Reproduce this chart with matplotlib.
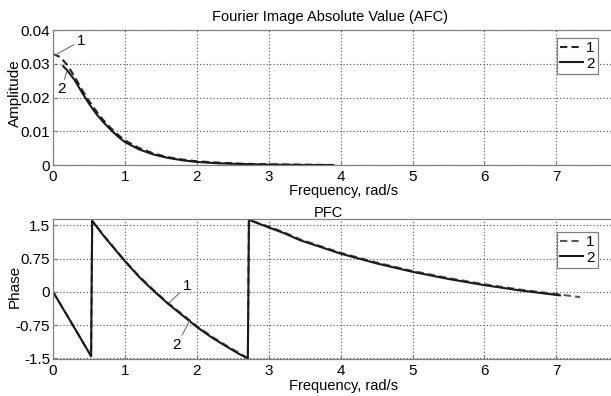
import matplotlib
matplotlib.use("Agg")
import matplotlib.pyplot as plt

plt.rcParams['font.family'] = ['Liberation Sans', 'DejaVu Sans']
plt.rcParams['axes.unicode_minus'] = False

# ---------------- data ----------------
freq_amp1 = [0.0, 0.1, 0.2, 0.3, 0.4, 0.5, 0.6, 0.7, 0.8, 0.9, 1.0, 1.2, 1.4,
             1.6, 1.8, 2.0, 2.3, 2.6, 3.0, 3.5, 3.9]
amp1 = [0.0329, 0.0320, 0.0296, 0.0262, 0.0224, 0.0190, 0.0160, 0.0133, 0.0110,
        0.0090, 0.0073, 0.0050, 0.0034, 0.0023, 0.0016, 0.0011, 0.0007, 0.0004,
        0.0002, 0.0001, 0.0000]

freq_amp2 = [0.14, 0.2, 0.3, 0.4, 0.5, 0.6, 0.7, 0.8, 0.9, 1.0, 1.2, 1.4, 1.6,
             1.8, 2.0, 2.3, 2.6, 3.0, 3.5, 3.9]
amp2 = [0.0293, 0.0280, 0.0252, 0.0216, 0.0182, 0.0152, 0.0127, 0.0105, 0.0085,
        0.0068, 0.0046, 0.0031, 0.0021, 0.0014, 0.0009, 0.0005, 0.0003, 0.0001,
        0.0000, 0.0000]

freq_ph1 = [0.0, 0.25, 0.53, 0.545, 0.7, 0.85, 1.0, 1.2, 1.4, 1.6, 1.8, 2.0, 2.2,
            2.4, 2.6, 2.71, 2.725, 3.0, 3.2, 3.44, 4.0, 4.5, 5.0, 5.5, 6.0, 6.5,
            7.0, 7.33]
phase1 = [0.0, -0.68, -1.45, 1.60, 1.28, 0.99, 0.70, 0.35, 0.04, -0.25, -0.51,
          -0.77, -1.00, -1.20, -1.39, -1.49, 1.62, 1.47, 1.35, 1.18, 0.88, 0.66,
          0.47, 0.31, 0.17, 0.05, -0.05, -0.12]

freq_ph2 = [0.0, 0.25, 0.53, 0.545, 0.7, 0.85, 1.0, 1.2, 1.4, 1.6, 1.8, 2.0, 2.2,
            2.4, 2.6, 2.71, 2.725, 3.0, 3.2, 3.44, 4.0, 4.5, 5.0, 5.5, 6.0, 6.5,
            7.05]
phase2 = [0.0, -0.68, -1.45, 1.60, 1.27, 0.98, 0.69, 0.33, 0.02, -0.27, -0.53,
          -0.79, -1.02, -1.22, -1.41, -1.50, 1.62, 1.45, 1.33, 1.16, 0.86, 0.64,
          0.45, 0.29, 0.15, 0.03, -0.08]

x_ticks = [0, 1, 2, 3, 4, 5, 6, 7]
amp_ticks = [0, 0.01, 0.02, 0.03, 0.04]
amp_ticklabels = ['0', '0.01', '0.02', '0.03', '0.04']
ph_ticks = [-1.5, -0.75, 0, 0.75, 1.5]
ph_ticklabels = ['-1.5', '-0.75', '0', '0.75', '1.5']
series_labels = ['1', '2']

# ---------------- figure ----------------
W, H = 611, 396
fig = plt.figure(figsize=(W / 100, H / 100), dpi=100)


def fx(px):
    return px / W


def fy(py):
    return 1 - py / H


ax_left = 53
ax_right = 620
xmax = (ax_right - ax_left) / 71.9

ax1 = fig.add_axes([fx(ax_left), fy(165), (ax_right - ax_left) / W, (165 - 30) / H])
ax2 = fig.add_axes([fx(ax_left), fy(359.3), (ax_right - ax_left) / W, (359.3 - 219) / H])

line_kw_d = dict(color='0.15', lw=1.5, linestyle=(0, (3.5, 2)))
line_kw_s = dict(color='0.1', lw=1.5, linestyle='-')

ax1.plot(freq_amp1, amp1, label=series_labels[0], **line_kw_d)
ax1.plot(freq_amp2, amp2, label=series_labels[1], **line_kw_s)
ax2.plot(freq_ph1, phase1, label=series_labels[0], **dict(line_kw_d, color='0.35'))
ax2.plot(freq_ph2, phase2, label=series_labels[1], **line_kw_s)

ax1.set_xlim(0, xmax)
ax1.set_ylim(0, 0.04)
ax2.set_xlim(0, xmax)
ax2.set_ylim(-1.52, 1.64)

for ax, yt, ytl in [(ax1, amp_ticks, amp_ticklabels), (ax2, ph_ticks, ph_ticklabels)]:
    ax.set_xticks(x_ticks)
    ax.set_xticklabels([str(t) for t in x_ticks])
    ax.set_yticks(yt)
    ax.set_yticklabels(ytl)
    ax.grid(True, color='0.3', linestyle=(0, (1, 2)), lw=0.8)
    ax.tick_params(direction='in', length=3, color='0.5', labelsize=11,
                   labelcolor='black')
    ax.tick_params(axis='x', pad=3.5)
    ax.tick_params(axis='y', pad=2)
    for s in ax.spines.values():
        s.set_color('0.5')
        s.set_linewidth(0.9)
    leg = ax.legend(loc='upper left', fontsize=11, frameon=True, fancybox=False,
                    framealpha=1, edgecolor='0.5', handlelength=1.5,
                    handletextpad=0.2, borderpad=0.2, labelspacing=0.1,
                    borderaxespad=0,
                    bbox_to_anchor=(fx(557), fy(38 if ax is ax1 else 232)),
                    bbox_transform=fig.transFigure)
    leg.get_frame().set_linewidth(0.9)

# titles / labels
fig.text(fx(330), fy(17), 'Fourier Image Absolute Value (AFC)', ha='center', va='center', fontsize=10.5)
fig.text(fx(328), fy(213), 'PFC', ha='center', va='center', fontsize=10.5)
fig.text(fx(344), fy(191), 'Frequency, rad/s', ha='center', va='center', fontsize=10.5)
fig.text(fx(344), fy(386), 'Frequency, rad/s', ha='center', va='center', fontsize=10.5)
fig.text(fx(15), fy(93), 'Amplitude', ha='center', va='center', rotation=90, fontsize=11)
fig.text(fx(15), fy(286), 'Phase', ha='center', va='center', rotation=90, fontsize=11)

# annotation labels with leader lines
ann_kw = dict(fontsize=11, ha='center', va='center',
              arrowprops=dict(arrowstyle='-', color='0.45', lw=0.8, shrinkA=0, shrinkB=0))
ax1.annotate('1', xy=(0.03, 0.0326), xytext=(0.39, 0.0368), **ann_kw)
ax1.annotate('2', xy=(0.19, 0.0276), xytext=(0.12, 0.0225), **ann_kw)
ax2.annotate('1', xy=(1.62, -0.24), xytext=(1.86, 0.13), **ann_kw)
ax2.annotate('2', xy=(1.90, -0.66), xytext=(1.72, -1.2), **ann_kw)

fig.savefig('out.png', dpi=100)
